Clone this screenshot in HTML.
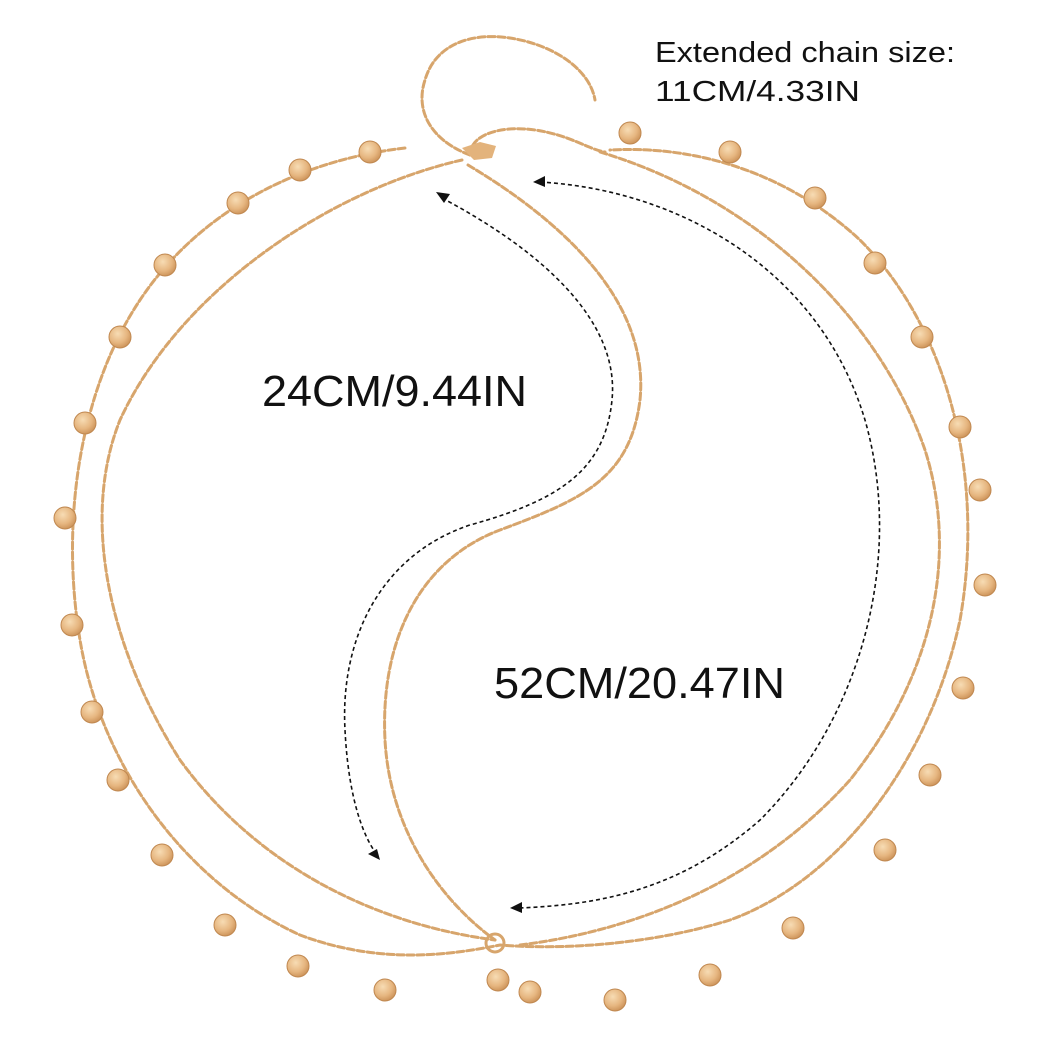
<!DOCTYPE html>
<html><head><meta charset="utf-8"><style>
html,body{margin:0;padding:0;background:#fff;}
svg{display:block}
text{font-family:"Liberation Sans",sans-serif;fill:#111}
</style></head><body>
<svg width="1050" height="1050" viewBox="0 0 1050 1050" xmlns="http://www.w3.org/2000/svg">
<defs>
<radialGradient id="g" cx="40%" cy="35%" r="70%">
<stop offset="0" stop-color="#f7dcb4"/><stop offset="0.6" stop-color="#e6b680"/><stop offset="1" stop-color="#c98f55"/>
</radialGradient>
</defs>
<g fill="none" stroke="#d7a56c" stroke-width="3" stroke-dasharray="7 3" stroke-linecap="round">
<path d="M405,148 C300,160 200,210 140,300 C80,390 60,520 80,640 C100,760 180,880 300,935 C380,965 450,955 500,945 C560,950 650,945 730,920 C840,880 930,760 960,620 C985,480 950,330 860,240 C790,175 700,145 610,150"/>
<path d="M462,160 C330,190 180,290 120,420 C80,520 110,650 180,760 C260,870 380,925 495,940"/>
<path d="M600,152 C760,200 880,320 925,450 C960,560 930,680 850,780 C760,880 640,930 520,945"/>
<path d="M468,165 C560,220 650,300 640,400 C630,480 580,500 500,530 C420,560 380,640 385,740 C390,830 440,900 495,940"/>
<path d="M470,155 C430,140 415,110 425,80 C435,45 470,32 510,38 C555,45 590,70 595,100"/>
<path d="M470,155 C470,135 500,125 535,130 C570,135 590,150 605,152"/>
</g>
<circle cx="495" cy="943" r="9" fill="none" stroke="#d7a56c" stroke-width="3"/>
<path d="M462,148 l18,-6 l16,4 l-4,12 l-18,2 z" fill="#e3b37c"/>
<g fill="url(#g)" stroke="#c08850" stroke-width="1">
<circle cx="370" cy="152" r="11"/><circle cx="300" cy="170" r="11"/><circle cx="238" cy="203" r="11"/>
<circle cx="165" cy="265" r="11"/><circle cx="120" cy="337" r="11"/><circle cx="85" cy="423" r="11"/>
<circle cx="65" cy="518" r="11"/><circle cx="72" cy="625" r="11"/><circle cx="92" cy="712" r="11"/>
<circle cx="118" cy="780" r="11"/><circle cx="162" cy="855" r="11"/><circle cx="225" cy="925" r="11"/>
<circle cx="298" cy="966" r="11"/><circle cx="385" cy="990" r="11"/><circle cx="498" cy="980" r="11"/>
<circle cx="530" cy="992" r="11"/><circle cx="615" cy="1000" r="11"/><circle cx="710" cy="975" r="11"/>
<circle cx="793" cy="928" r="11"/><circle cx="885" cy="850" r="11"/><circle cx="930" cy="775" r="11"/>
<circle cx="963" cy="688" r="11"/><circle cx="985" cy="585" r="11"/><circle cx="980" cy="490" r="11"/>
<circle cx="960" cy="427" r="11"/><circle cx="922" cy="337" r="11"/><circle cx="875" cy="263" r="11"/>
<circle cx="815" cy="198" r="11"/><circle cx="730" cy="152" r="11"/><circle cx="630" cy="133" r="11"/>
</g>
<g fill="none" stroke="#111" stroke-width="1.6" stroke-dasharray="4 3">
<path d="M442,198 C540,250 620,320 612,400 C605,470 560,500 470,525 C380,555 340,640 345,730 C348,790 360,830 375,852"/>
<path d="M540,182 C680,190 820,270 865,420 C905,560 860,720 760,820 C680,890 600,905 518,908"/>
</g>
<g fill="#111">
<path d="M436,192 l14,2 l-6,9 z"/>
<path d="M380,860 l-12,-6 l9,-5 z"/>
<path d="M533,182 l12,-6 l0,11 z"/>
<path d="M510,908 l12,-6 l0,11 z"/>
</g>
<text x="262" y="406" font-size="44" textLength="265" lengthAdjust="spacingAndGlyphs">24CM/9.44IN</text>
<text x="494" y="698" font-size="44" textLength="291" lengthAdjust="spacingAndGlyphs">52CM/20.47IN</text>
<text x="655" y="62" font-size="29" textLength="300" lengthAdjust="spacingAndGlyphs">Extended chain size:</text>
<text x="655" y="101" font-size="29" textLength="205" lengthAdjust="spacingAndGlyphs">11CM/4.33IN</text>
</svg>
</body></html>
